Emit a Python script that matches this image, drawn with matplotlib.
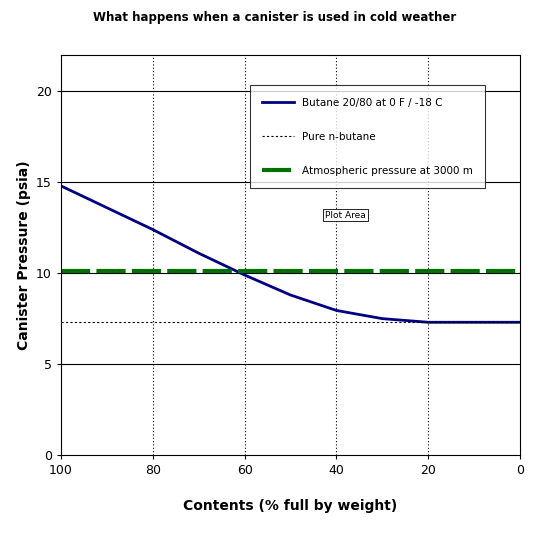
import matplotlib
matplotlib.use("Agg")
import matplotlib.pyplot as plt
from matplotlib.lines import Line2D

contents = [100, 90, 80, 70, 60, 50, 40, 30, 20, 10, 0]
butane = [14.8, 13.6, 12.4, 11.1, 9.9, 8.8, 7.95, 7.5, 7.3, 7.3, 7.3]
n_butane = 7.3
atm_3000 = 10.1

fig = plt.figure(figsize=(5.5, 5.37), dpi=100)
ax = fig.add_axes([61 / 550, 1 - 455 / 537, 459 / 550, 400 / 537])

ax.plot(contents, butane, color="#000080", lw=2)
ax.axhline(n_butane, color="black", lw=0.8, ls=(0, (2, 2)))
ax.axhline(atm_3000, color="#007000", lw=3, ls=(0, (7, 1.5)))

ax.set_xlim(100, 0)
ax.set_ylim(0, 22)
ax.set_xticks([100, 80, 60, 40, 20, 0])
ax.set_yticks([0, 5, 10, 15, 20])
for y in [5, 10, 15, 20]:
    ax.axhline(y, color="black", lw=0.8, zorder=0)
for x in [80, 60, 40, 20]:
    ax.axvline(x, color="black", lw=0.8, ls=(0, (1, 2)), zorder=0)
for s in ax.spines.values():
    s.set_linewidth(0.8)
ax.tick_params(labelsize=9, length=3)

ax.set_xlabel("Contents (% full by weight)", fontsize=10, fontweight="bold", labelpad=16)
ax.set_ylabel("Canister Pressure (psia)", fontsize=10, fontweight="bold")
fig.text(0.5, 1 - 18 / 537, "What happens when a canister is used in cold weather",
         ha="center", va="center", fontsize=8.5, fontweight="bold")

handles = [
    Line2D([], [], color="#000080", lw=2),
    Line2D([], [], color="black", lw=0.8, ls=(0, (2, 2))),
    Line2D([], [], color="#007000", lw=3, ls=(0, (7, 1.5))),
]
labels = ["Butane 20/80 at 0 F / -18 C", "Pure n-butane", "Atmospheric pressure at 3000 m"]
leg = ax.legend(handles, labels, loc="upper left", bbox_to_anchor=(0.40, 0.937),
                fontsize=7.5, frameon=True, fancybox=False, edgecolor="black",
                labelspacing=2.3, handlelength=3, borderpad=1.2)
leg.get_frame().set_linewidth(0.8)

ax.text(0.62, 0.6, "Plot Area", transform=ax.transAxes, fontsize=6.5,
        ha="center", va="center",
        bbox=dict(boxstyle="square,pad=0.2", fc="white", ec="black", lw=0.6))

fig.savefig("out.png", dpi=100)
